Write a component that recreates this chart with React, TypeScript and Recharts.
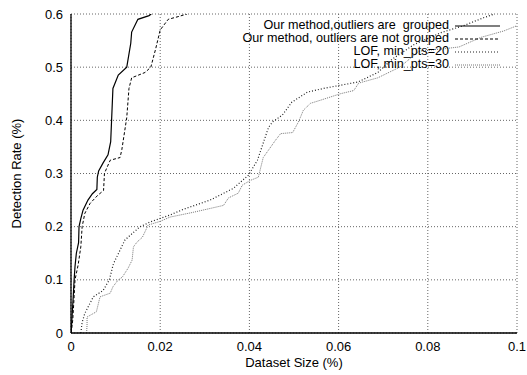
import React from 'react';
import { LineChart, Line, XAxis, YAxis, CartesianGrid } from 'recharts';

// ---- Data ----
const groupedX = [0, 0.0001, 0.0003, 0.0005, 0.0007, 0.0009, 0.0012, 0.0017, 0.0018, 0.0022, 0.0027, 0.0038, 0.0048, 0.0058, 0.0059, 0.0062, 0.0072, 0.0083, 0.0089, 0.0091, 0.0094, 0.0106, 0.0125, 0.0134, 0.0136, 0.015, 0.0175, 0.018];
const groupedY = [0, 0.01, 0.04, 0.068, 0.1, 0.125, 0.15, 0.17, 0.2, 0.215, 0.231, 0.25, 0.262, 0.27, 0.293, 0.305, 0.32, 0.335, 0.36, 0.4, 0.46, 0.485, 0.5, 0.545, 0.566, 0.59, 0.597, 0.6];

const notGroupedX = [0, 0.0001, 0.0004, 0.0007, 0.0009, 0.0016, 0.0022, 0.0025, 0.0031, 0.0043, 0.006, 0.0073, 0.0075, 0.008, 0.0088, 0.011, 0.0114, 0.0125, 0.013, 0.0136, 0.0166, 0.0179, 0.019, 0.02, 0.0218, 0.024, 0.026];
const notGroupedY = [0, 0.005, 0.025, 0.068, 0.1, 0.128, 0.162, 0.2, 0.225, 0.244, 0.259, 0.268, 0.3, 0.31, 0.325, 0.33, 0.345, 0.405, 0.46, 0.48, 0.49, 0.5, 0.535, 0.57, 0.59, 0.595, 0.6];

const lof20X = [0.0022, 0.0025, 0.0031, 0.005, 0.0072, 0.0086, 0.0095, 0.0121, 0.0133, 0.0155, 0.0178, 0.0222, 0.0253, 0.0312, 0.0364, 0.0398, 0.0418, 0.0443, 0.0452, 0.0474, 0.0495, 0.053, 0.0566, 0.0604, 0.0643, 0.0688, 0.072, 0.077, 0.083, 0.088, 0.0925, 0.095];
const lof20Y = [0, 0.02, 0.037, 0.068, 0.08, 0.1, 0.13, 0.175, 0.184, 0.2, 0.209, 0.222, 0.233, 0.25, 0.272, 0.297, 0.325, 0.387, 0.397, 0.41, 0.434, 0.453, 0.46, 0.466, 0.472, 0.49, 0.515, 0.543, 0.565, 0.578, 0.593, 0.6];

const lof30X = [0.0035, 0.0036, 0.0036, 0.0057, 0.0065, 0.0088, 0.0094, 0.0106, 0.0115, 0.0128, 0.0137, 0.014, 0.0148, 0.016, 0.0173, 0.02, 0.0222, 0.0274, 0.0342, 0.0353, 0.0375, 0.0384, 0.0402, 0.042, 0.0431, 0.0458, 0.047, 0.0497, 0.051, 0.0521, 0.0537, 0.056, 0.0604, 0.0634, 0.0645, 0.0688, 0.0737, 0.078, 0.084, 0.087, 0.0919, 0.097, 0.1];
const lof30Y = [0, 0.015, 0.03, 0.04, 0.068, 0.075, 0.087, 0.1, 0.105, 0.122, 0.137, 0.162, 0.171, 0.18, 0.203, 0.21, 0.218, 0.227, 0.24, 0.254, 0.263, 0.278, 0.287, 0.293, 0.33, 0.362, 0.375, 0.377, 0.397, 0.419, 0.432, 0.438, 0.45, 0.456, 0.47, 0.48, 0.5, 0.53, 0.535, 0.538, 0.556, 0.568, 0.578];

const seriesNames = [
  'Our method,outliers are  grouped',
  'Our method, outliers are not grouped',
  'LOF, min_pts=20',
  'LOF, min_pts=30',
];

const xTicks = [0, 0.02, 0.04, 0.06, 0.08, 0.1];
const xTickLabels = ['0', '0.02', '0.04', '0.06', '0.08', '0.1'];
const yTicks = [0, 0.1, 0.2, 0.3, 0.4, 0.5, 0.6];
const yTickLabels = ['0', '0.1', '0.2', '0.3', '0.4', '0.5', '0.6'];

const xTitle = 'Dataset Size (%)';
const yTitle = 'Detection Rate (%)';

const toPoints = (xs: number[], ys: number[]) => xs.map((x, i) => ({ x, y: ys[i] }));

const FONT = '"Liberation Sans", Arial, Helvetica, sans-serif';

const styles = [
  { stroke: '#000', dash: undefined as string | undefined, width: 1.2 },
  { stroke: '#000', dash: '3 2', width: 1 },
  { stroke: '#222', dash: '1 2', width: 1.2 },
  { stroke: '#777', dash: '1 1', width: 1 },
];

const series = [
  toPoints(groupedX, groupedY),
  toPoints(notGroupedX, notGroupedY),
  toPoints(lof20X, lof20Y),
  toPoints(lof30X, lof30Y),
];

const XTitle = (props: any) => {
  const vb = props.viewBox || {};
  const cx = vb.x + vb.width / 2;
  const cy = vb.y + 34;
  return (
    <text x={cx} y={cy} textAnchor="middle" fontSize={13} fontFamily={FONT} fill="#000">
      {xTitle}
    </text>
  );
};

const YTitle = (props: any) => {
  const vb = props.viewBox || {};
  const cx = vb.x + 21;
  const cy = vb.y + vb.height / 2;
  return (
    <text
      x={cx}
      y={cy}
      transform={`rotate(-90 ${cx} ${cy})`}
      textAnchor="middle"
      fontSize={13}
      fontFamily={FONT}
      fill="#000"
    >
      {yTitle}
    </text>
  );
};

const LegendBox = () => (
  <div
    style={{
      position: 'absolute',
      top: 19,
      right: 26,
      fontFamily: FONT,
      fontSize: 12.6,
      color: '#000',
      pointerEvents: 'none',
    }}
  >
    {seriesNames.map((name, i) => (
      <div
        key={name}
        style={{ display: 'flex', justifyContent: 'flex-end', alignItems: 'center', height: 13, whiteSpace: 'pre' }}
      >
        <span style={{ lineHeight: '13px' }}>{name}</span>
        <svg width={46} height={10} style={{ marginLeft: 6 }}>
          <line
            x1={0}
            x2={45}
            y1={5}
            y2={5}
            stroke={styles[i].stroke}
            strokeWidth={styles[i].width}
            strokeDasharray={styles[i].dash}
          />
        </svg>
      </div>
    ))}
  </div>
);

export default function App() {
  return (
    <div style={{ position: 'absolute', left: 0, top: 0, width: 527, height: 375, background: '#fff' }}>
      <LineChart width={527} height={375} margin={{ top: 14, right: 10, left: 0, bottom: 0 }}>
        <CartesianGrid stroke="#666" strokeDasharray="1 2" />
        <XAxis
          dataKey="x"
          type="number"
          domain={[0, 0.1]}
          ticks={xTicks}
          tickFormatter={(v: number) => xTickLabels[xTicks.indexOf(v)] ?? String(v)}
          allowDataOverflow
          height={42}
          tickLine={false}
          tickSize={6}
          tickMargin={3}
          axisLine={{ stroke: '#000', strokeWidth: 1.3 }}
          tick={{ fontSize: 13, fontFamily: FONT, fill: '#000' }}
          label={<XTitle />}
        />
        <XAxis
          xAxisId="top"
          orientation="top"
          type="number"
          domain={[0, 0.1]}
          height={0}
          tick={false}
          tickLine={false}
          axisLine={{ stroke: '#000', strokeWidth: 1.3 }}
        />
        <YAxis
          type="number"
          domain={[0, 0.6]}
          ticks={yTicks}
          tickFormatter={(v: number) => yTickLabels[yTicks.indexOf(v)] ?? String(v)}
          allowDataOverflow
          width={71}
          tickLine={false}
          tickSize={6}
          tickMargin={2}
          axisLine={{ stroke: '#000', strokeWidth: 1.3 }}
          tick={{ fontSize: 13, fontFamily: FONT, fill: '#000' }}
          label={<YTitle />}
        />
        <YAxis
          yAxisId="right"
          orientation="right"
          type="number"
          domain={[0, 0.6]}
          width={0}
          tick={false}
          tickLine={false}
          axisLine={{ stroke: '#000', strokeWidth: 1.3 }}
        />
        {series.map((data, i) => (
          <Line
            key={seriesNames[i]}
            data={data}
            dataKey="y"
            name={seriesNames[i]}
            type="linear"
            dot={false}
            activeDot={false}
            stroke={styles[i].stroke}
            strokeWidth={styles[i].width}
            strokeDasharray={styles[i].dash}
            isAnimationActive={false}
          />
        ))}
      </LineChart>
      <LegendBox />
    </div>
  );
}
